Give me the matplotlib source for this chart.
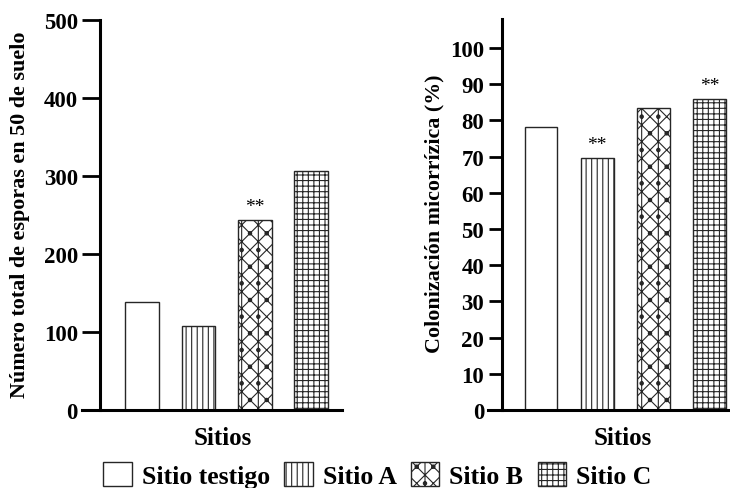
import numpy as np
import matplotlib.pyplot as plt
from matplotlib.patches import Patch

# Data
SITIOS = ['Sitio testigo', 'Sitio A', 'Sitio B', 'Sitio C']
ESPORAS = [138, 108, 244, 307]
COLONIZACION = [78.2, 69.6, 83.4, 85.9]
SIG_ESPORAS = ['', '', '**', '']
SIG_COLONIZACION = ['', '**', '', '**']
HATCHES = ['', '|||', 'xx|.', '+++']

plt.rcParams['font.family'] = ['Liberation Serif', 'DejaVu Serif']
plt.rcParams['font.weight'] = 'bold'
plt.rcParams['hatch.linewidth'] = 0.8

fig = plt.figure(figsize=(7.3, 4.89), dpi=100)
ax1 = fig.add_axes([0.1123, 0.1595, 0.356, 0.7975])
ax2 = fig.add_axes([0.6685, 0.1595, 0.3315, 0.7996])


def draw(ax, values, sig, ylim, yticks, tick_len, xlim, spine_x, width):
    x = np.arange(len(values))
    bars = ax.bar(x, values, width=width, color='white', edgecolor='0.15',
                  linewidth=1.0)
    for b, h in zip(bars, HATCHES):
        b.set_hatch(h)
    for xi, v, s in zip(x, values, sig):
        if s:
            ax.text(xi, v + ylim[1] * 0.012, s, ha='center', va='bottom',
                    fontsize=14, fontweight='normal')
    ax.set_xlim(*xlim)
    ax.set_ylim(*ylim)
    ax.set_yticks(yticks)
    ax.set_xticks([])
    for s in ['top', 'right']:
        ax.spines[s].set_visible(False)
    ax.spines['left'].set_position(('data', spine_x))
    ax.spines['left'].set_linewidth(2.2)
    ax.spines['bottom'].set_linewidth(2.2)
    ax.tick_params(axis='y', length=tick_len, width=2, labelsize=16.5, pad=3)
    for lab in ax.get_yticklabels():
        lab.set_fontweight('bold')
    ax.set_xlabel('Sitios', fontsize=18, fontweight='bold')
    ax.patch.set_alpha(0)


draw(ax1, ESPORAS, SIG_ESPORAS, (0, 500), np.arange(0, 501, 100), 13,
     (-1.07, 3.55), -0.75, 0.6)
draw(ax2, COLONIZACION, SIG_COLONIZACION, (0, 108), np.arange(0, 101, 10), 9.5,
     (-0.94, 3.36), -0.70, 0.58)

ax1.set_ylabel('Número total de esporas en 50 de suelo', fontsize=15.9,
               fontweight='bold')
ax1.yaxis.set_label_coords(-0.2, 0.502)
ax2.set_ylabel('Colonización micorrízica (%)', fontsize=15.8,
               fontweight='bold')
ax2.yaxis.set_label_coords(-0.18, 0.505)
ax1.xaxis.set_label_coords(0.54, -0.04)
ax2.xaxis.set_label_coords(0.555, -0.04)

handles = [Patch(facecolor='white', edgecolor='0.15', hatch=h, label=s)
           for s, h in zip(SITIOS, HATCHES)]
fig.legend(handles=handles, loc='center', bbox_to_anchor=(0.517, 0.027),
           ncol=4, frameon=False, fontsize=18.5, handlelength=1.1,
           handleheight=1.1, handletextpad=0.4, columnspacing=0.55)

fig.savefig('out.png', dpi=100)
